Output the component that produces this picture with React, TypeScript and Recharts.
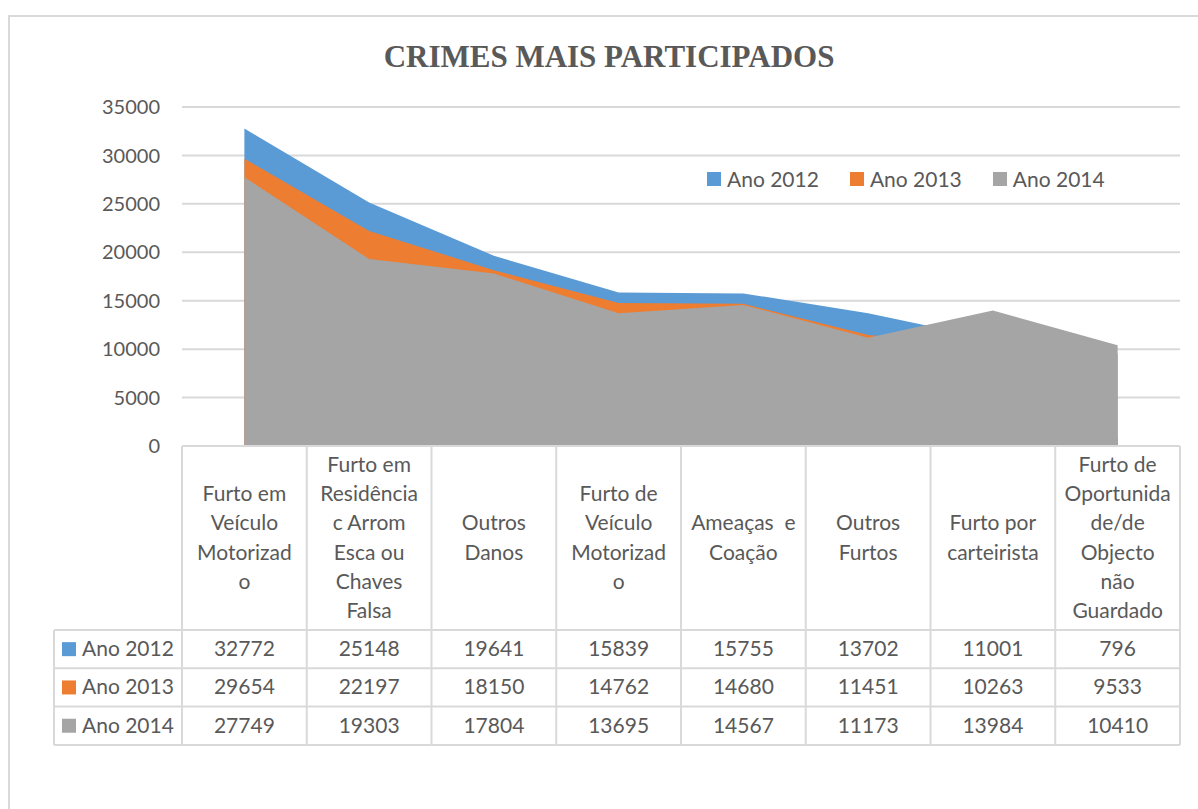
import React from "react";
import { AreaChart, Area, XAxis, YAxis, CartesianGrid, Legend } from "recharts";

const categories = [
  "Furto em Veículo Motorizado",
  "Furto em Residência c Arrom Esca ou Chaves Falsa",
  "Outros Danos",
  "Furto de Veículo Motorizado",
  "Ameaças  e Coação",
  "Outros Furtos",
  "Furto por carteirista",
  "Furto de Oportunidade/de Objecto não Guardado",
];

const categoryLines: string[][] = [
  ["Furto em", "Veículo", "Motorizad", "o"],
  ["Furto em", "Residência", "c Arrom", "Esca ou", "Chaves", "Falsa"],
  ["Outros", "Danos"],
  ["Furto de", "Veículo", "Motorizad", "o"],
  ["Ameaças  e", "Coação"],
  ["Outros", "Furtos"],
  ["Furto por", "carteirista"],
  ["Furto de", "Oportunida", "de/de", "Objecto", "não", "Guardado"],
];

const ano2012 = [32772, 25148, 19641, 15839, 15755, 13702, 11001, 796];
const ano2013 = [29654, 22197, 18150, 14762, 14680, 11451, 10263, 9533];
const ano2014 = [27749, 19303, 17804, 13695, 14567, 11173, 13984, 10410];

const yTicks = [0, 5000, 10000, 15000, 20000, 25000, 30000, 35000];

const seriesNames = ["Ano 2012", "Ano 2013", "Ano 2014"];
const seriesKeys = ["a2012", "a2013", "a2014"];
const seriesColors = ["#5B9BD5", "#ED7D31", "#A5A5A5"];
const seriesValues = [ano2012, ano2013, ano2014];

const data = categories.map((c, i) => ({
  name: c,
  a2012: ano2012[i],
  a2013: ano2013[i],
  a2014: ano2014[i],
}));

const FONT = "Lato, 'Open Sans', sans-serif";
const TXT = "#595959";
const BORDER = "#D9D9D9";

const HEADER_H = 184;
const ROW_H = 38.3;
const LINE_H = 29.3;
const LEGEND_COL_W = 128;
const FS = 21;

const TableTick = (props: any) => {
  const { x, y, index, width } = props;
  const n = categories.length;
  const colW = (width || 998) / n;
  const left = x - colW / 2;
  const right = x + colW / 2;
  const top = y;
  const bottom = top + HEADER_H + ROW_H * 3;
  const lines = categoryLines[index] || [];
  const headerCenter = top + HEADER_H / 2;
  const firstCenter = headerCenter - ((lines.length - 1) * LINE_H) / 2;
  const rowLines = [0, 1, 2, 3].map((r) => top + HEADER_H + r * ROW_H);
  return (
    <g>
      <line x1={left} x2={left} y1={top} y2={bottom} stroke={BORDER} strokeWidth={2} />
      {index === n - 1 && (
        <line x1={right} x2={right} y1={top} y2={bottom} stroke={BORDER} strokeWidth={2} />
      )}
      {rowLines.map((ry, r) => (
        <line key={r} x1={left} x2={right} y1={ry} y2={ry} stroke={BORDER} strokeWidth={2} />
      ))}
      {lines.map((ln, k) => (
        <text
          key={k}
          x={x}
          y={firstCenter + k * LINE_H + 7}
          textAnchor="middle"
          fontFamily={FONT}
          fontSize={FS}
          fill={TXT}
          style={{ whiteSpace: "pre" }}
        >
          {ln}
        </text>
      ))}
      {seriesValues.map((vals, r) => (
        <text
          key={r}
          x={x}
          y={top + HEADER_H + r * ROW_H + ROW_H / 2 + 7}
          textAnchor="middle"
          fontFamily={FONT}
          fontSize={FS}
          fill={TXT}
        >
          {vals[index]}
        </text>
      ))}
      {index === 0 && (
        <g>
          <line
            x1={left - LEGEND_COL_W}
            x2={left - LEGEND_COL_W}
            y1={rowLines[0]}
            y2={bottom}
            stroke={BORDER}
            strokeWidth={2}
          />
          {rowLines.map((ry, r) => (
            <line
              key={r}
              x1={left - LEGEND_COL_W}
              x2={left}
              y1={ry}
              y2={ry}
              stroke={BORDER}
              strokeWidth={2}
            />
          ))}
          {seriesNames.map((nm, r) => {
            const cy = top + HEADER_H + r * ROW_H + ROW_H / 2;
            return (
              <g key={r}>
                <rect x={left - LEGEND_COL_W + 8} y={cy - 7} width={14} height={14} fill={seriesColors[r]} />
                <text
                  x={left - LEGEND_COL_W + 28}
                  y={cy + 7}
                  fontFamily={FONT}
                  fontSize={FS}
                  fill={TXT}
                >
                  {nm}
                </text>
              </g>
            );
          })}
        </g>
      )}
    </g>
  );
};

const renderLegend = (props: any) => {
  const payload = props.payload || [];
  const items = payload.length
    ? payload.map((p: any) => ({ label: p.value, color: p.color }))
    : seriesNames.map((s, i) => ({ label: s, color: seriesColors[i] }));
  return (
    <div style={{ display: "flex", alignItems: "center", height: 28, whiteSpace: "nowrap" }}>
      {items.map((it: any, i: number) => (
        <div key={i} style={{ display: "flex", alignItems: "center", marginRight: 31 }}>
          <span
            style={{ display: "inline-block", width: 14, height: 14, background: it.color, marginRight: 6 }}
          />
          <span style={{ fontFamily: FONT, fontSize: FS, color: TXT, lineHeight: "28px" }}>{it.label}</span>
        </div>
      ))}
    </div>
  );
};

export default function App() {
  return (
    <div
      style={{
        position: "absolute",
        left: 0,
        top: 0,
        width: 1198,
        height: 809,
        overflow: "hidden",
        background: "#fff",
      }}
    >
      <div
        style={{
          position: "absolute",
          left: 8,
          top: 15,
          width: 1300,
          height: 1000,
          border: `2px solid ${BORDER}`,
          boxSizing: "border-box",
        }}
      />
      <svg style={{ position: "absolute", left: 0, top: 0 }} width={1198} height={100}>
        <text
          x={609}
          y={67}
          textAnchor="middle"
          fontFamily="'Liberation Serif', 'Times New Roman', serif"
          fontWeight="bold"
          fontSize={31}
          fill={TXT}
        >
          CRIMES MAIS PARTICIPADOS
        </text>
      </svg>
      <div style={{ position: "absolute", left: 0, top: 0 }}>
        <AreaChart
          width={1198}
          height={809}
          data={data}
          margin={{ top: 107, right: 18, left: 0, bottom: 0 }}
        >
          <CartesianGrid vertical={false} stroke={BORDER} strokeWidth={2} />
          <YAxis
            width={182}
            domain={[0, 35000]}
            ticks={yTicks}
            axisLine={false}
            tickLine={false}
            tickSize={0}
            tickMargin={22}
            interval={0}
            tick={{ fontFamily: FONT, fontSize: 20, fill: TXT }}
          />
          <XAxis
            dataKey="name"
            scale="band"
            height={363}
            interval={0}
            tickLine={false}
            tickSize={0}
            tickMargin={0}
            axisLine={{ stroke: BORDER, strokeWidth: 2 }}
            tick={<TableTick />}
          />
          <Legend
            layout="horizontal"
            verticalAlign="middle"
            align="center"
            content={renderLegend}
            wrapperStyle={{ position: "absolute", left: 707, top: 165, width: "auto", height: "auto" }}
          />
          {seriesKeys.map((k, i) => (
            <Area
              key={k}
              type="linear"
              dataKey={k}
              name={seriesNames[i]}
              fill={seriesColors[i]}
              fillOpacity={1}
              stroke="none"
              isAnimationActive={false}
              dot={false}
              activeDot={false}
              legendType="square"
            />
          ))}
        </AreaChart>
      </div>
    </div>
  );
}
